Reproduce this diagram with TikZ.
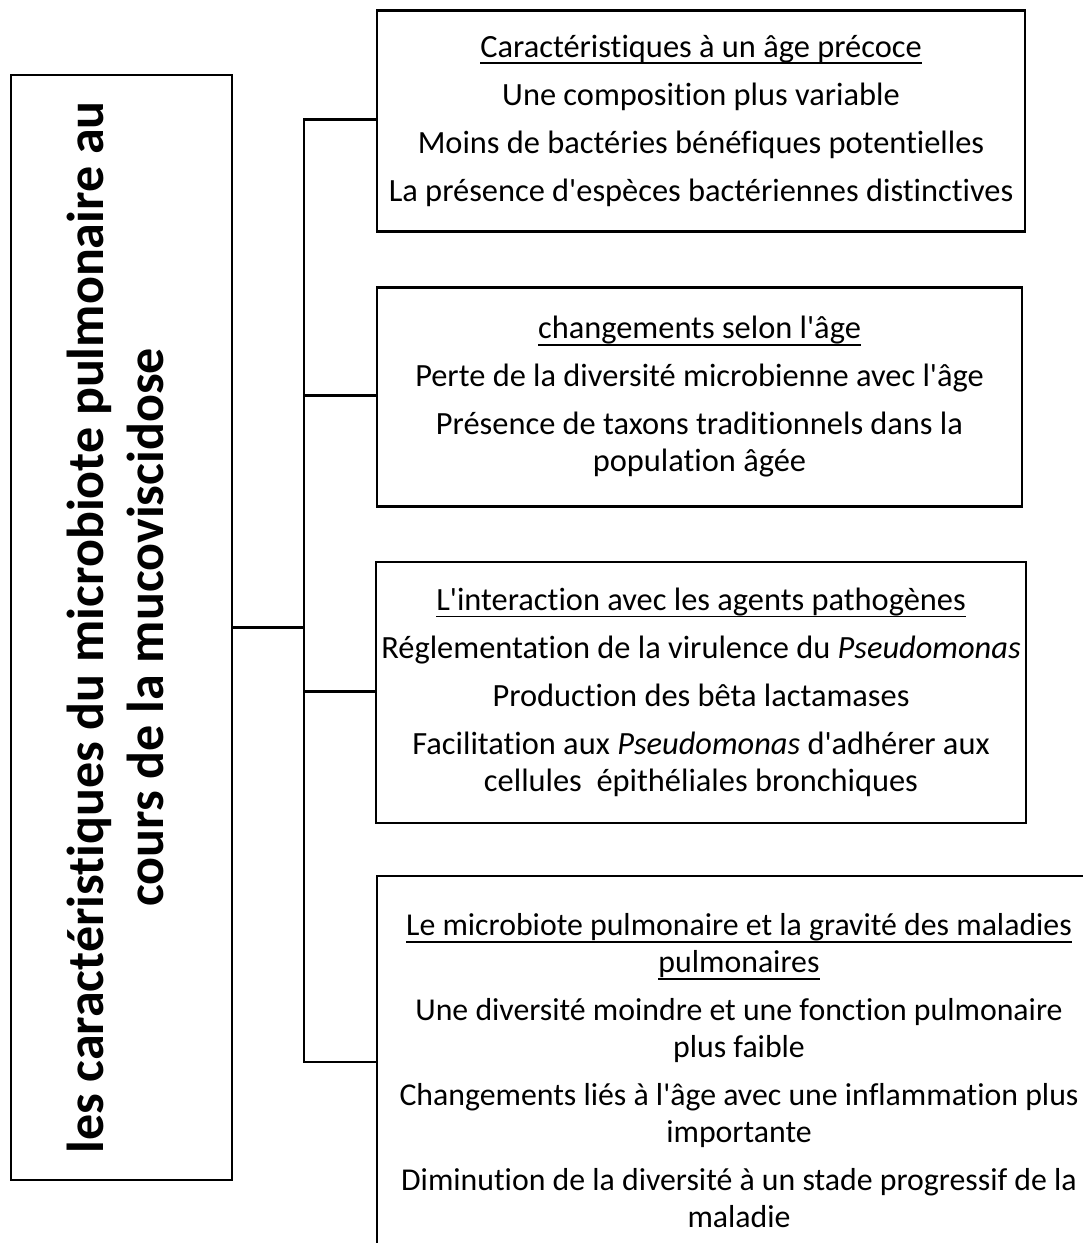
\documentclass[tikz,border=0pt]{standalone}
\usepackage{fontspec}
\usepackage{graphicx}
\setmainfont{Carlito}[Ligatures={TeXOff,NoCommon}]
% underlined heading with the rule set just under the descenders
\newcommand\hdr[1]{\setbox0\hbox{#1}\rlap{\usebox0}\rule[-0.21em]{\wd0}{0.06em}}
\begin{document}
\begin{tikzpicture}[x=1pt,y=-1pt,
  frame/.style={draw=black, line width=2.6pt, rectangle, inner sep=0pt, align=center},
  link/.style={draw=black, line width=2.6pt, line join=miter},
  body/.style={font=\fontsize{32.4}{37}\selectfont},
  smallbody/.style={font=\fontsize{31.8}{37}\selectfont},
  title/.style={font=\fontsize{52}{60}\selectfont\bfseries}]
\useasboundingbox (0,0) rectangle (1083,1243);
\begin{scope}
\clip (0,0) rectangle (1083,1243);

% central title box, text set vertically
\node[frame, title, minimum width=221pt, minimum height=1105pt] (root) at (121.5,627.5)
  {\rotatebox{90}{\begin{tabular}{@{}c@{}}les caractéristiques du microbiote pulmonaire au\\cours de la mucoviscidose\end{tabular}}};

% the four topic boxes
\node[frame, body, minimum width=648pt, minimum height=221pt] (box1) at (701,121)
  {\hdr{Caractéristiques à un âge précoce}\\[11pt]
   Une composition plus variable\\[11pt]
   Moins de bactéries bénéfiques potentielles\\[11pt]
   La présence d'espèces bactériennes distinctives};

\node[frame, body, minimum width=645pt, minimum height=219pt] (box2) at (699.5,397)
  {\hdr{changements selon l'âge}\\[11pt]
   Perte de la diversité microbienne avec l'âge\\[11pt]
   Présence de taxons traditionnels dans la\\
   population âgée};

\node[frame, body, minimum width=650pt, minimum height=261pt] (box3) at (701,692.5)
  {\hdr{L'interaction avec les agents pathogènes}\\[11pt]
   Réglementation de la virulence du \textit{Pseudomonas}\\[11pt]
   Production des bêta lactamases\\[11pt]
   Facilitation aux \textit{Pseudomonas} d'adhérer aux\\
   cellules\ \ épithéliales bronchiques};

\node[frame, smallbody, minimum width=724pt, minimum height=390pt] (box4) at (739,1071)
  {\hdr{Le microbiote pulmonaire et la gravité des maladies}\\
   \hdr{pulmonaires}\\[11pt]
   Une diversité moindre et une fonction pulmonaire\\
   plus faible\\[11pt]
   Changements liés à l'âge avec une inflammation plus\\
   importante\\[11pt]
   Diminution de la diversité à un stade progressif de la\\
   maladie};

% connectors
\coordinate (j0) at (304,627.5);
\coordinate (j1) at (304,119.5);
\coordinate (j2) at (304,395.5);
\coordinate (j3) at (304,691.5);
\coordinate (j4) at (304,1062);

\draw[link] (root.east) -- (j0);
\draw[link] (box1.west |- j1) -- (j1) -- (j4) -- (j4 -| box4.west);
\draw[link] (j2) -- (j2 -| box2.west);
\draw[link] (j3) -- (j3 -| box3.west);
\end{scope}
\end{tikzpicture}
\end{document}
